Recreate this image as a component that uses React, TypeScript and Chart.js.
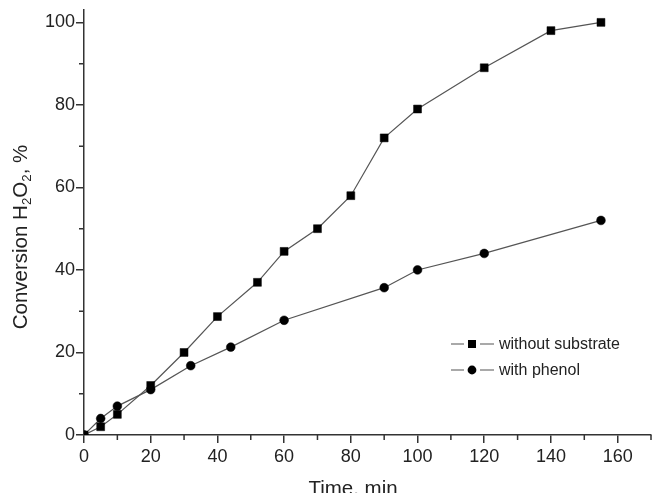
import { useEffect, useRef } from 'react';
import { Chart, registerables } from 'chart.js';

Chart.register(...registerables);

// Data
const timeWithout = [0, 5, 10, 20, 30, 40, 52, 60, 70, 80, 90, 100, 120, 140, 155];
const convWithout = [0, 2, 5, 12, 20, 28.7, 37, 44.5, 50, 58, 72, 79, 89, 98, 100];
const timePhenol = [0, 5, 10, 20, 32, 44, 60, 90, 100, 120, 155];
const convPhenol = [0, 4, 7, 11, 16.8, 21.3, 27.8, 35.7, 40, 44, 52];

const seriesLabels = ['without substrate', 'with phenol'];
const xTicks = [0, 20, 40, 60, 80, 100, 120, 140, 160];
const xMinorTicks = [10, 30, 50, 70, 90, 110, 130, 150, 170];
const yTicks = [0, 20, 40, 60, 80, 100];
const yMinorTicks = [10, 30, 50, 70, 90];
const xTitle = 'Time, min';
const yTitleParts: [string, boolean][] = [
  ['Conversion H', false],
  ['2', true],
  ['O', false],
  ['2', true],
  [', %', false],
];

const FONT = '"Liberation Sans", Arial, sans-serif';
const AXIS = '#333';
const LINE = '#555';

const decorPlugin = {
  id: 'decor',
  afterDraw(chart: any) {
    const ctx = chart.ctx as CanvasRenderingContext2D;
    const xs = chart.scales.x;
    const ys = chart.scales.y;
    const area = chart.chartArea;
    ctx.save();
    // minor ticks
    ctx.strokeStyle = AXIS;
    ctx.lineWidth = 1.5;
    ctx.beginPath();
    xMinorTicks.forEach((v) => {
      const px = xs.getPixelForValue(v);
      ctx.moveTo(px, area.bottom);
      ctx.lineTo(px, area.bottom + 5);
    });
    yMinorTicks.forEach((v) => {
      const py = ys.getPixelForValue(v);
      ctx.moveTo(area.left, py);
      ctx.lineTo(area.left - 5, py);
    });
    ctx.stroke();

    // axis titles
    const f = 20.5;
    ctx.fillStyle = '#222';
    ctx.textBaseline = 'alphabetic';
    ctx.textAlign = 'center';
    ctx.font = `${f}px ${FONT}`;
    ctx.fillText(xTitle, 353, 495);

    ctx.save();
    ctx.translate(27, 237);
    ctx.rotate(-Math.PI / 2);
    ctx.textAlign = 'left';
    const widths = yTitleParts.map(([t, sub]) => {
      ctx.font = `${sub ? f * 0.65 : f}px ${FONT}`;
      return ctx.measureText(t).width;
    });
    const total = widths.reduce((a, b) => a + b, 0);
    let x = -total / 2;
    yTitleParts.forEach(([t, sub], i) => {
      ctx.font = `${sub ? f * 0.65 : f}px ${FONT}`;
      ctx.fillText(t, x, sub ? 4 : 0);
      x += widths[i];
    });
    ctx.restore();

    // legend
    const rowsY = [344, 370];
    seriesLabels.forEach((label, i) => {
      const y = rowsY[i];
      ctx.strokeStyle = LINE;
      ctx.lineWidth = 1.2;
      ctx.beginPath();
      ctx.moveTo(451, y);
      ctx.lineTo(464, y);
      ctx.moveTo(480, y);
      ctx.lineTo(494, y);
      ctx.stroke();
      ctx.fillStyle = '#000';
      if (i === 0) {
        ctx.fillRect(468, y - 4, 8, 8);
      } else {
        ctx.beginPath();
        ctx.arc(472, y, 4.4, 0, Math.PI * 2);
        ctx.fill();
      }
      ctx.fillStyle = '#222';
      ctx.font = `16px ${FONT}`;
      ctx.textAlign = 'left';
      ctx.textBaseline = 'middle';
      ctx.fillText(label, 499, y + 1);
    });
    ctx.restore();
  },
};

export default function App() {
  const ref = useRef<HTMLCanvasElement | null>(null);

  useEffect(() => {
    if (!ref.current) return;
    const chart = new Chart(ref.current, {
      type: 'line',
      data: {
        datasets: [
          {
            label: seriesLabels[0],
            data: timeWithout.map((t, i) => ({ x: t, y: convWithout[i] })),
            borderColor: LINE,
            borderWidth: 1.2,
            pointStyle: 'rect',
            pointRadius: 5.6,
            pointBackgroundColor: '#000',
            pointBorderColor: '#000',
            pointBorderWidth: 0.5,
            fill: false,
            tension: 0,
            clip: 0,
          },
          {
            label: seriesLabels[1],
            data: timePhenol.map((t, i) => ({ x: t, y: convPhenol[i] })),
            borderColor: LINE,
            borderWidth: 1.2,
            pointStyle: 'circle',
            pointRadius: 4.4,
            pointBackgroundColor: '#000',
            pointBorderColor: '#000',
            pointBorderWidth: 0.5,
            fill: false,
            tension: 0,
            clip: 0,
          },
        ],
      },
      options: {
        responsive: false,
        animation: false,
        layout: { autoPadding: false, padding: { top: 10, right: 1, left: 0, bottom: 0 } },
        plugins: { legend: { display: false }, tooltip: { enabled: false } },
        scales: {
          x: {
            type: 'linear',
            min: 0,
            max: 170,
            afterBuildTicks: (s: any) => {
              s.ticks = xTicks.map((v) => ({ value: v }));
            },
            afterFit: (s: any) => {
              s.height = 58;
              s.paddingLeft = 0;
              s.paddingRight = 0;
            },
            grid: {
              drawOnChartArea: false,
              drawTicks: true,
              tickLength: 8,
              color: AXIS,
              lineWidth: 1.5,
            },
            border: { display: true, color: AXIS, width: 1.5 },
            ticks: {
              font: { family: FONT, size: 18 },
              color: '#222',
              padding: 3,
              maxRotation: 0,
              autoSkip: false,
            },
          },
          y: {
            type: 'linear',
            min: 0,
            max: 103,
            afterBuildTicks: (s: any) => {
              s.ticks = yTicks.map((v) => ({ value: v }));
            },
            afterFit: (s: any) => {
              s.width = 84;
              s.paddingTop = 0;
              s.paddingBottom = 0;
            },
            grid: {
              drawOnChartArea: false,
              drawTicks: true,
              tickLength: 8,
              color: AXIS,
              lineWidth: 1.5,
            },
            border: { display: true, color: AXIS, width: 1.5 },
            ticks: {
              font: { family: FONT, size: 18 },
              color: '#222',
              padding: 1,
              autoSkip: false,
            },
          },
        },
      },
      plugins: [decorPlugin],
    });
    return () => chart.destroy();
  }, []);

  return (
    <div style={{ position: 'absolute', left: 0, top: 0, width: 652, height: 493, background: '#fff' }}>
      <canvas ref={ref} width={652} height={493} />
    </div>
  );
}
